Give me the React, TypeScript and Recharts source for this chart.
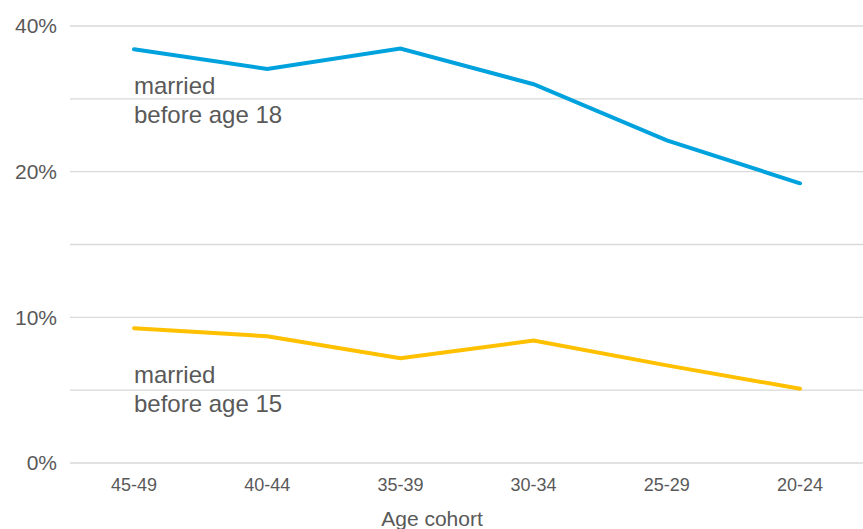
import { LineChart, Line, XAxis, YAxis, CartesianGrid } from 'recharts';

const cohorts = ['45-49', '40-44', '35-39', '30-34', '25-29', '20-24'];
const marriedBefore18 = [36.8, 34.1, 36.9, 32.0, 24.3, 19.2];
const marriedBefore15 = [9.25, 8.7, 7.2, 8.4, 6.7, 5.1];

// axis is stretched: 0-10 and 10-20 and 20-40 each take the same height
const yTicks = [0, 1, 2, 3, 4, 5, 6];
const yTickLabels: Record<number, string> = { 0: '0%', 2: '10%', 4: '20%', 6: '40%' };

const toAxis = (v: number) => (v <= 10 ? v / 5 : v <= 20 ? 2 + (v - 10) / 5 : 4 + (v - 20) / 10);

const data = cohorts.map((c, i) => ({
    cohort: c,
    u18: toAxis(marriedBefore18[i]),
    u15: toAxis(marriedBefore15[i]),
}));

const FONT = '"Liberation Sans", Arial, sans-serif';
const TEXT = '#595959';

export default function App() {
    return (
        <div style={{ position: 'absolute', left: 0, top: 0, width: 863, height: 529, background: '#fff' }}>
            <LineChart width={863} height={529} data={data} margin={{ top: 26, right: 0, bottom: 0, left: 0 }}>
                <CartesianGrid vertical={false} stroke="#d9d9d9" strokeWidth={1.3} />
                <XAxis
                    dataKey="cohort"
                    axisLine={false}
                    tickLine={false}
                    tickSize={0}
                    tickMargin={15}
                    height={66}
                    padding={{ left: 64, right: 63 }}
                    tick={{ fill: TEXT, fontSize: 18, fontFamily: FONT }}
                    interval={0}
                    label={{
                        content: () => (
                            <text x={432} y={526} textAnchor="middle" fill={TEXT} fontSize={21} fontFamily={FONT}>
                                Age cohort
                            </text>
                        ),
                    }}
                />
                <YAxis
                    type="number"
                    domain={[0, 6]}
                    ticks={yTicks}
                    width={70}
                    axisLine={false}
                    tickLine={false}
                    tickSize={0}
                    tickMargin={13}
                    tickFormatter={(t: number) => yTickLabels[t] ?? ''}
                    tick={{ fill: TEXT, fontSize: 21, fontFamily: FONT }}
                />
                <Line
                    dataKey="u18"
                    stroke="#00a2de"
                    strokeWidth={4}
                    strokeLinecap="round"
                    dot={false}
                    isAnimationActive={false}
                />
                <Line
                    dataKey="u15"
                    stroke="#ffc000"
                    strokeWidth={4}
                    strokeLinecap="round"
                    dot={false}
                    isAnimationActive={false}
                />
                <text fill={TEXT} fontSize={24} fontFamily={FONT}>
                    <tspan x={134} y={94}>married</tspan>
                    <tspan x={134} y={123}>before age 18</tspan>
                </text>
                <text fill={TEXT} fontSize={24} fontFamily={FONT}>
                    <tspan x={134} y={383}>married</tspan>
                    <tspan x={134} y={412}>before age 15</tspan>
                </text>
            </LineChart>
        </div>
    );
}
